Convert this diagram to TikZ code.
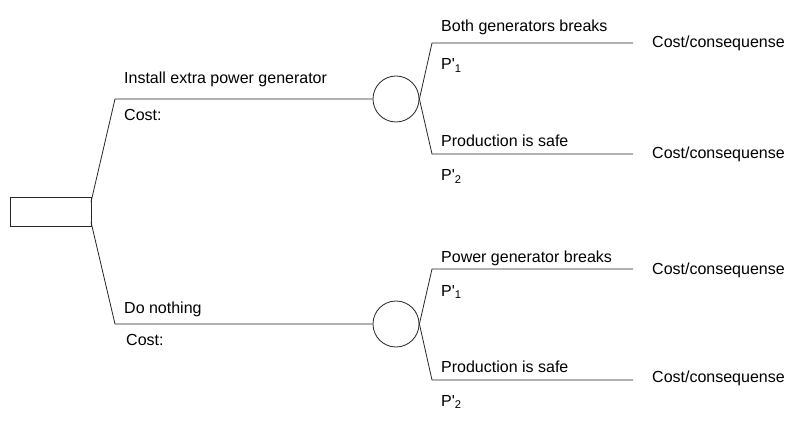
\documentclass[tikz,border=0pt]{standalone}
\usepackage{fontspec}
\newfontfamily\arialfont{Liberation Sans}
\begin{document}
\begin{tikzpicture}[x=1pt,y=-1pt,
  ln/.style={line width=0.8pt,draw=black!85},
  lbl/.style={anchor=base west,inner sep=0pt,font=\arialfont\fontsize{16}{18}\selectfont},
  chance/.style={circle,ln,minimum size=46pt,inner sep=0pt},
  decision/.style={rectangle,ln,minimum width=81pt,minimum height=29pt,inner sep=0pt}]
\useasboundingbox (0,0) rectangle (800,430);
\newcommand{\pq}{P'}
% nodes
\node[decision] (d) at (50.5,211.5) {};
\node[chance] (c1) at (396,99) {};
\node[chance] (c2) at (396,324) {};
% corner coordinates
\coordinate (du) at (91,202);
\coordinate (dl) at (91,222);
\coordinate (a1) at (115,99);
\coordinate (a2) at (115,324);
\coordinate (b1) at (432,43);
\coordinate (b2) at (432,154);
\coordinate (b3) at (432,269);
\coordinate (b4) at (432,380);
\coordinate (e1) at (633,43);
\coordinate (e2) at (633,154);
\coordinate (e3) at (633,269);
\coordinate (e4) at (633,380);
% connectors
\draw[ln] (du) -- (a1) -- (c1.west);
\draw[ln] (dl) -- (a2) -- (c2.west);
\draw[ln] (c1.east) -- (b1) -- (e1);
\draw[ln] (c1.east) -- (b2) -- (e2);
\draw[ln] (c2.east) -- (b3) -- (e3);
\draw[ln] (c2.east) -- (b4) -- (e4);
% labels
\node[lbl] (t1) at (124,84) {Install extra power generator};
\node[lbl] (t2) at (124,121) {Cost:};
\node[lbl] (t3) at (124,313) {Do nothing};
\node[lbl] (t4) at (126,345) {Cost:};
\node[lbl] (u1) at (441,32) {Both generators breaks};
\node[lbl] (u2) at (441,70) {\pq\textsubscript{1}};
\node[lbl] (u3) at (441,147) {Production is safe};
\node[lbl] (u4) at (441,181) {\pq\textsubscript{2}};
\node[lbl] (v1) at (441,262) {Power generator breaks};
\node[lbl] (v2) at (441,296) {\pq\textsubscript{1}};
\node[lbl] (v3) at (441,372) {Production is safe};
\node[lbl] (v4) at (441,406) {\pq\textsubscript{2}};
\node[lbl] (k1) at (652,48) {Cost/consequense};
\node[lbl] (k2) at (652,159) {Cost/consequense};
\node[lbl] (k3) at (652,275) {Cost/consequense};
\node[lbl] (k4) at (652,382) {Cost/consequense};
\end{tikzpicture}
\end{document}
